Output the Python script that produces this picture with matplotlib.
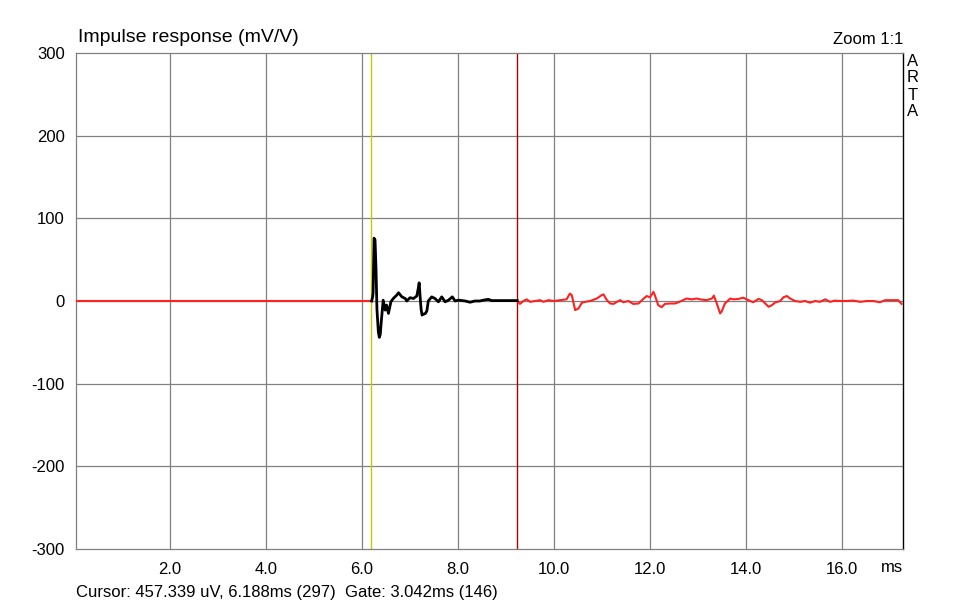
import numpy as np
import matplotlib.pyplot as plt

plt.rcParams['font.family'] = ['Liberation Sans', 'DejaVu Sans']

# values (time in ms, response in mV/V)
pre_t = [0.0, 6.20]
pre_v = [0.0, 0.0]

imp_t = [6.20, 6.22, 6.23, 6.25, 6.27, 6.29, 6.31, 6.34, 6.36, 6.38, 6.40, 6.44,
         6.48, 6.51, 6.55, 6.60, 6.65, 6.72, 6.76, 6.83, 6.90, 6.93, 7.00, 7.07,
         7.14, 7.17, 7.19, 7.21, 7.23, 7.25, 7.28, 7.32, 7.35, 7.38, 7.45, 7.52,
         7.59, 7.66, 7.73, 7.80, 7.88, 7.94, 8.01, 8.15, 8.25, 8.35, 8.45, 8.53,
         8.63, 8.70, 9.00, 9.23]
imp_v = [0.0, 5.0, 10.0, 76.0, 74.0, 40.0, -10.0, -38.0, -44.0, -40.0, -25.0, 1.0,
         -11.0, -5.0, -15.0, -1.0, 3.0, 7.0, 10.0, 5.0, 3.0, 0.0, 4.0, 3.0,
         6.0, 15.0, 22.0, 5.0, -10.0, -17.0, -16.0, -15.0, -12.0, 0.0, 5.0, 3.0,
         -1.0, 5.0, -1.0, 1.0, 5.0, 0.0, 1.0, 0.0, -1.5, 0.0, 0.0, 1.0,
         2.0, 0.5, 0.5, 0.5]

post_t = [9.23, 9.29, 9.36, 9.43, 9.50, 9.60, 9.71, 9.78, 9.88, 9.99, 10.13,
          10.26, 10.33, 10.37, 10.44, 10.51, 10.58, 10.65, 10.75, 10.89, 10.99,
          11.03, 11.10, 11.17, 11.24, 11.31, 11.38, 11.44, 11.55, 11.65, 11.76,
          11.86, 11.93, 12.00, 12.07, 12.10, 12.17, 12.24, 12.31, 12.42, 12.52,
          12.59, 12.69, 12.76, 12.87, 12.97, 13.04, 13.18, 13.29, 13.33, 13.39,
          13.46, 13.49, 13.56, 13.67, 13.74, 13.84, 13.94, 14.05, 14.15, 14.26,
          14.33, 14.40, 14.47, 14.54, 14.60, 14.71, 14.78, 14.85, 14.92, 15.02,
          15.13, 15.23, 15.33, 15.44, 15.54, 15.65, 15.75, 15.85, 15.96, 16.10,
          16.24, 16.38, 16.51, 16.65, 16.79, 16.90, 17.04, 17.17, 17.24]
post_v = [0.5, -3.5, 0.0, 2.0, -1.0, 0.0, 1.0, -1.0, 1.0, 0.0, 1.0,
          2.0, 9.0, 7.0, -11.0, -9.0, -2.0, -1.0, 0.0, 3.0, 7.0,
          8.0, 1.0, -3.0, -3.5, -1.0, 1.0, -1.5, 0.0, -3.5, -3.0,
          2.5, 6.0, 4.5, 11.0, 7.0, -5.0, -7.5, -3.5, -3.0, -3.0,
          -1.5, 1.0, 3.0, 2.0, 3.0, 2.0, 1.0, 3.0, 6.5, -3.0,
          -15.0, -13.0, -3.0, 3.0, 2.0, 2.5, 4.0, 1.0, -1.5, 2.5,
          1.0, -3.0, -7.0, -5.0, -2.0, 0.0, 4.5, 6.0, 3.0, 0.0,
          -1.0, 0.0, -2.0, 0.0, -1.0, 2.0, -1.0, 0.5, 0.0, 0.0,
          0.5, -1.0, 0.0, 0.0, -1.5, 1.0, 1.0, 1.0, -3.5]

cursor_ms = 6.188
gate_end_ms = 9.23

x_ticks = [2.0, 4.0, 6.0, 8.0, 10.0, 12.0, 14.0, 16.0]
y_ticks = [300, 200, 100, 0, -100, -200, -300]

W, H = 957, 607
fig = plt.figure(figsize=(W / 100, H / 100), dpi=100)
ax = fig.add_axes([76 / W, (H - 549) / H, 827 / W, 496 / H])

grid_c = '#808080'
for xt in x_ticks:
    ax.axvline(xt, color=grid_c, lw=0.9, zorder=1)
for yt in y_ticks[1:-1]:
    ax.axhline(yt, color=grid_c, lw=0.9, zorder=1)

ax.axvline(cursor_ms, color='#c8c800', lw=1.0, zorder=2)
ax.axvline(gate_end_ms, color='#b00000', lw=1.0, zorder=2)

ax.plot(pre_t, pre_v, color='#ff2020', lw=1.5, zorder=3)
ax.plot(post_t, post_v, color='#ff2020', lw=1.5, zorder=3)
ax.plot(imp_t, imp_v, color='black', lw=2.0, zorder=4)

ax.set_xlim(0.04, 17.27)
ax.set_ylim(-300, 300)

for s in ['left', 'bottom', 'top']:
    ax.spines[s].set_color(grid_c)
    ax.spines[s].set_linewidth(0.9)
ax.spines['right'].set_color('black')
ax.spines['right'].set_linewidth(1.0)

ax.set_xticks(x_ticks)
ax.set_xticklabels([f'{v:.1f}' for v in x_ticks])
ax.set_yticks(y_ticks)
ax.set_yticklabels([str(v) for v in y_ticks])
ax.tick_params(axis='x', length=0, pad=9, labelsize=12)
ax.tick_params(axis='y', length=0, pad=8, labelsize=12)

fig.text(78 / W, 1 - 38 / H, 'Impulse response (mV/V)', fontsize=14,
         va='center', ha='left')
fig.text(903 / W, 1 - 40 / H, 'Zoom 1:1', fontsize=12, va='center', ha='right')
for i, ch in enumerate('ARTA'):
    fig.text(913 / W, 1 - (61 + i * 17) / H, ch, fontsize=12, va='center', ha='center')
fig.text(892 / W, 1 - 567 / H, 'ms', fontsize=12, va='center', ha='center')
fig.text(76 / W, 1 - 593 / H,
         'Cursor: 457.339 uV, 6.188ms (297)  Gate: 3.042ms (146)',
         fontsize=12, va='center', ha='left')

fig.savefig('out.png', dpi=100)
